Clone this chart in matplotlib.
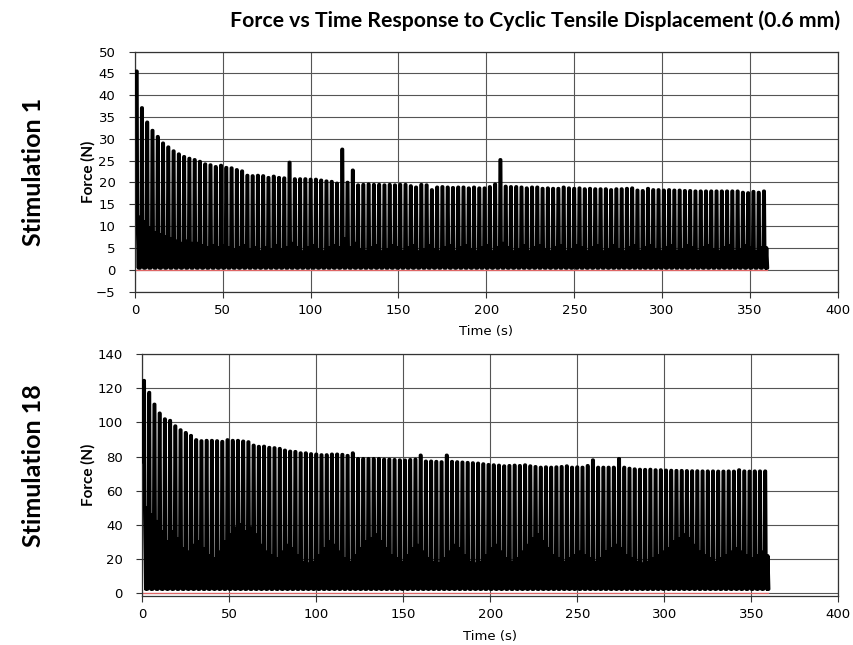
import numpy as np
import matplotlib
matplotlib.use("Agg")
import matplotlib.pyplot as plt

# cyclic test: one load peak every 3 s, 120 cycles, 0-360 s
cycle_period = 3.0
first_peak = 1.0

# Stimulation 1 - peak force per cycle (N)
peaks_1 = [45.5, 37.1, 33.8, 31.9, 30.5, 29.0, 28.1, 27.2, 26.5, 25.9,
           25.5, 25.2, 24.8, 24.2, 24.0, 23.6, 23.9, 23.4, 23.3, 22.9,
           22.6, 21.6, 21.5, 21.6, 21.5, 21.1, 21.4, 21.1, 21.0, 24.6,
           20.8, 20.8, 20.8, 20.7, 20.7, 20.5, 20.3, 20.2, 19.8, 27.6,
           20.0, 22.8, 19.4, 19.5, 19.6, 19.5, 19.5, 19.4, 19.5, 19.4,
           19.5, 19.5, 19.2, 18.9, 19.5, 19.4, 18.3, 18.9, 19.0, 18.9,
           18.8, 18.9, 18.9, 18.7, 18.9, 18.7, 18.7, 19.0, 19.6, 25.2,
           19.1, 19.0, 19.0, 18.9, 18.7, 18.9, 18.9, 18.6, 18.7, 18.6,
           18.6, 18.9, 18.7, 18.6, 18.7, 18.5, 18.6, 18.5, 18.5, 18.5,
           18.3, 18.5, 18.5, 18.6, 18.7, 18.2, 18.1, 18.6, 18.3, 18.3,
           18.2, 18.3, 18.2, 18.2, 18.1, 18.1, 18.0, 18.0, 18.0, 18.0,
           18.0, 18.0, 18.0, 18.0, 18.0, 17.7, 17.6, 17.9, 17.7, 18.0]

# top of the low, noisy part of each cycle (N)
band_1 = [12.0, 11.0, 9.5, 8.5, 8.0, 7.5, 7.0, 6.5, 6.0, 6.5,
          6.0, 6.0, 5.5, 5.0, 5.5, 5.0, 5.5, 5.0, 4.5, 5.0,
          5.5, 4.5, 5.0, 4.0, 5.0, 4.5, 5.5, 4.5, 5.0, 6.0,
          5.0, 4.0, 5.0, 5.5, 4.5, 4.0, 5.0, 5.5, 5.0, 7.0,
          5.0, 6.0, 4.5, 4.0, 5.0, 5.5, 4.0, 4.5, 5.5, 5.0,
          4.0, 5.0, 5.5, 4.0, 4.5, 5.5, 4.5, 4.0, 5.0, 5.5,
          4.0, 5.0, 5.5, 4.5, 4.0, 5.0, 5.5, 4.0, 5.0, 6.0,
          5.0, 4.0, 4.5, 5.5, 4.0, 5.0, 5.5, 4.5, 4.0, 5.0,
          5.5, 4.0, 4.5, 5.5, 5.0, 4.0, 5.0, 5.5, 4.0, 4.5,
          5.5, 4.5, 4.0, 5.0, 5.5, 4.0, 5.0, 5.5, 4.5, 4.0,
          5.0, 5.5, 4.0, 4.5, 5.5, 5.0, 4.0, 5.0, 5.5, 4.5,
          4.0, 5.0, 5.5, 4.0, 4.5, 5.5, 5.0, 4.0, 5.0, 5.0]
trough_1 = 0.4
start_1 = 40.0
ref_1 = 0.0

# Stimulation 18 - peak force per cycle (N)
peaks_18 = [124.5, 117.5, 110.6, 105.4, 102.0, 101.1, 97.9, 95.6, 94.0, 92.3,
            89.8, 89.2, 89.4, 89.4, 89.2, 88.8, 89.8, 89.4, 89.4, 89.0,
            88.6, 86.6, 85.9, 86.0, 85.3, 85.1, 84.7, 83.7, 83.1, 82.9,
            82.1, 82.1, 81.6, 81.4, 81.0, 81.0, 81.4, 81.4, 81.2, 80.6,
            82.1, 78.8, 78.8, 78.8, 78.8, 78.8, 78.4, 78.4, 78.2, 78.0,
            77.9, 78.2, 78.4, 80.8, 77.3, 77.3, 77.1, 76.9, 80.8, 77.1,
            76.9, 76.7, 76.5, 76.3, 76.1, 75.7, 75.3, 75.1, 74.9, 74.5,
            74.7, 74.9, 74.7, 75.1, 74.5, 74.1, 73.7, 73.9, 73.7, 73.9,
            74.1, 74.5, 73.7, 73.9, 73.7, 74.7, 78.0, 73.7, 73.7, 73.7,
            73.7, 78.8, 73.7, 73.1, 72.7, 72.5, 72.4, 72.5, 72.2, 72.2,
            72.0, 71.9, 71.8, 71.8, 71.7, 71.6, 71.6, 71.5, 71.5, 71.5,
            71.4, 71.4, 71.5, 71.4, 72.2, 71.5, 71.4, 71.5, 71.5, 71.5]

band_18 = [50, 46, 42, 36, 30, 36, 32, 26, 24, 28,
           30, 26, 22, 20, 24, 30, 34, 38, 40, 36,
           38, 34, 28, 24, 22, 20, 24, 28, 26, 22,
           18, 17, 18, 22, 26, 30, 28, 24, 20, 18,
           22, 26, 30, 32, 34, 30, 26, 22, 20, 18,
           22, 26, 28, 24, 20, 18, 17, 20, 24, 28,
           26, 22, 18, 17, 18, 22, 26, 28, 24, 20,
           18, 20, 24, 28, 32, 34, 30, 26, 22, 20,
           18, 20, 22, 24, 22, 20, 18, 20, 24, 26,
           28, 26, 22, 20, 18, 17, 18, 20, 22, 24,
           26, 30, 32, 34, 32, 28, 24, 22, 20, 18,
           20, 22, 24, 26, 24, 22, 20, 22, 24, 22]
trough_18 = 2.5
start_18 = 77.0
ref_18 = 0.3

x_ticks = [0, 50, 100, 150, 200, 250, 300, 350, 400]
y_ticks_1 = [-5, 0, 5, 10, 15, 20, 25, 30, 35, 40, 45, 50]
y_ticks_18 = [0, 20, 40, 60, 80, 100, 120, 140]


def build_trace(peaks, band, trough, start):
    # one cycle: sharp load peak, then the force rattles between trough and band
    t = [0.0]
    f = [start]
    for i, (pk, bd) in enumerate(zip(peaks, band)):
        tp = first_peak + i * cycle_period
        if i > 0:
            t.append(tp - 0.4)
            f.append(band[i - 1])
        t += [tp - 0.15, tp + 0.15, tp + 0.4, tp + 1.0, tp + 1.5, tp + 2.0]
        f += [pk, pk, bd, trough, bd, trough]
    t.append(tp + 1.5)
    f.append(trough)
    return np.array(t), np.array(f)


fig = plt.figure(figsize=(8.54, 6.45), dpi=100)

panels = [
    ([0.158, 0.548, 0.823, 0.372], peaks_1, band_1, trough_1, start_1, ref_1,
     (-5, 50), y_ticks_1, "Stimulation 1", 0.733),
    ([0.1666, 0.076, 0.815, 0.375], peaks_18, band_18, trough_18, start_18, ref_18,
     (-1.5, 140), y_ticks_18, "Stimulation 18", 0.278),
]

for rect, pk, bd, tr, st, ref, ylim, yt, name, name_y in panels:
    ax = fig.add_axes(rect)
    t, f = build_trace(pk, bd, tr, st)
    ax.plot([0, t[-1]], [ref, ref], color="#e06666", lw=0.9, zorder=2)
    ax.plot(t, f, color="black", lw=2.5, zorder=3)
    ax.set_xlim(0, 400)
    ax.set_ylim(*ylim)
    ax.set_xticks(x_ticks)
    ax.set_yticks(yt)
    ax.grid(True, color="#555555", lw=0.8)
    ax.set_axisbelow(True)
    for s in ax.spines.values():
        s.set_color("#333333")
        s.set_linewidth(0.9)
    ax.tick_params(axis="x", length=4, width=0.8, color="#333333", pad=5, labelsize=9.5)
    ax.tick_params(axis="y", length=4, width=0.8, color="#333333", pad=10, labelsize=9.5)
    ax.set_xlabel("Time (s)", fontsize=9.5, labelpad=6)
    bb = ax.get_position()
    fig.text(0.103, bb.y0 + bb.height / 2, "Force (N)", rotation=90, ha="center",
             va="center", fontsize=11, fontweight="bold", family="Lato")
    fig.text(0.039, name_y, name, rotation=90, ha="center",
             va="center", fontsize=18, fontweight="bold", family="Lato")

fig.text(0.626, 0.968, "Force vs Time Response to Cyclic Tensile Displacement (0.6 mm)",
         ha="center", va="center", fontsize=15.3, fontweight="bold", family="Lato")

fig.savefig("out.png", dpi=100)
